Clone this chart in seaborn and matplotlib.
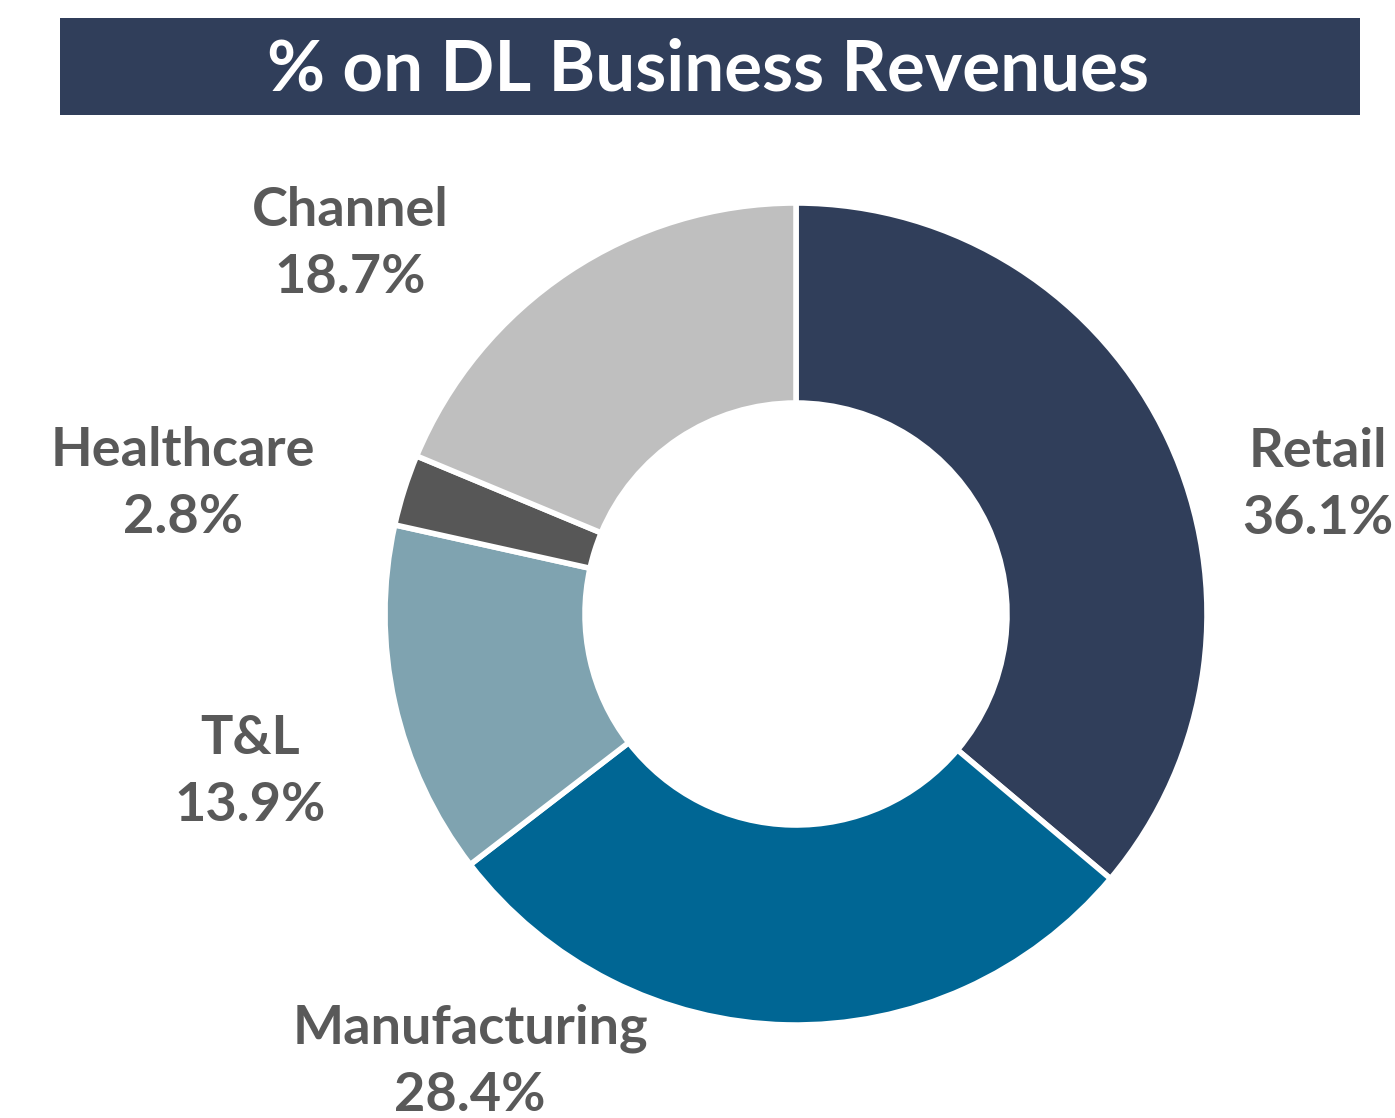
import matplotlib
matplotlib.use('Agg')
import matplotlib.pyplot as plt
from matplotlib.patches import Rectangle
import seaborn as sns

# data
segments = ['Retail', 'Manufacturing', 'T&L', 'Healthcare', 'Channel']
shares = [36.1, 28.4, 13.9, 2.8, 18.7]
seg_colors = ['#303E5A', '#006694', '#7FA3B0', '#575757', '#BFBFBF']
title = '% on DL Business Revenues'

# label anchor points (pixels, centre of two-line label)
label_pos = [(1318, 485), (470, 1062), (250, 772), (183, 484), (350, 244)]

sns.set_theme(style='white')
plt.rcParams['font.family'] = ['Lato', 'DejaVu Sans']

W, H = 1395, 1118
fig = plt.figure(figsize=(W / 100, H / 100), dpi=100)
ax = fig.add_axes([0, 0, 1, 1])

ax.pie(shares, colors=sns.color_palette(seg_colors), startangle=90, counterclock=False,
       radius=411, center=(796, H - 614),
       wedgeprops=dict(width=200, edgecolor='white', linewidth=4))
ax.set_xlim(0, W)
ax.set_ylim(0, H)
ax.set_aspect('equal')
ax.axis('off')

for name, val, (x, y) in zip(segments, shares, label_pos):
    ax.text(x, H - y, f'{name}\n{val:.1f}%', ha='center', va='center',
            fontsize=39, fontweight='bold', color='#595959', linespacing=1.45)

ax.add_patch(Rectangle((60, H - 115), 1300, 97, facecolor='#303E5A', edgecolor='none'))
ax.text(708, H - 70, title, ha='center', va='center', fontsize=51,
        fontweight='bold', color='white')

fig.savefig('out.png', dpi=100)
